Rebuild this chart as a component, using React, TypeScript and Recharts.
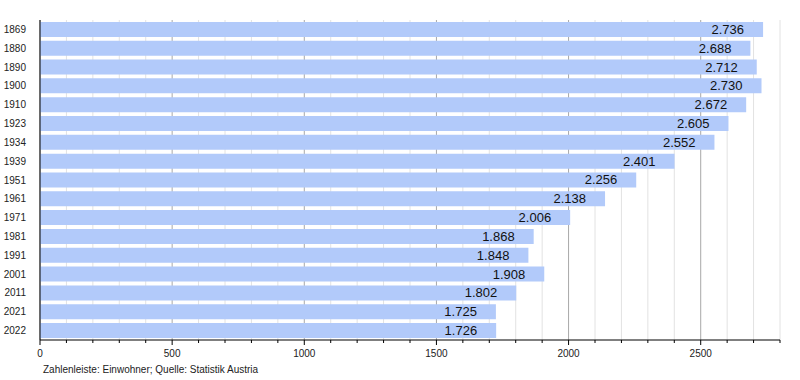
import React from "react";
import { BarChart, Bar, XAxis, YAxis, CartesianGrid, LabelList } from "recharts";

// census years and inhabitants
const years = ["1869", "1880", "1890", "1900", "1910", "1923", "1934", "1939", "1951", "1961", "1971", "1981", "1991", "2001", "2011", "2021", "2022"];
const population = [2736, 2688, 2712, 2730, 2672, 2605, 2552, 2401, 2256, 2138, 2006, 1868, 1848, 1908, 1802, 1725, 1726];

// every 100 gets a minor tick / grid line, every 500 a label
const xTicks = [0, 100, 200, 300, 400, 500, 600, 700, 800, 900, 1000, 1100, 1200, 1300, 1400, 1500, 1600, 1700, 1800, 1900, 2000, 2100, 2200, 2300, 2400, 2500, 2600, 2700, 2800];
const majorStep = 500;

const FONT = "'Liberation Sans', Arial, Helvetica, sans-serif";
const BAR_COLOR = "#b2cafa";

const data = years.map((year, i) => ({ year, value: population[i] }));

// 2736 -> "2.736"
function formatDe(v: number) {
  return String(v).replace(/\B(?=(\d{3})+(?!\d))/g, ".");
}

const XTick = (props: any) => {
  const { x, y, payload } = props;
  const major = payload.value % majorStep === 0;
  return (
    <g>
      <line x1={x} x2={x} y1={y} y2={y + (major ? 5 : 3)} stroke="#000" strokeWidth={1} />
      {major && (
        <text x={x} y={y + 17} textAnchor="middle" fontSize={10} fill="#222" fontFamily={FONT}>
          {payload.value}
        </text>
      )}
    </g>
  );
};

const GridLine = (p: any) => (
  <line
    key={`g-${p.index}`}
    x1={p.x1}
    y1={p.y1}
    x2={p.x2}
    y2={p.y2}
    stroke={p.index % 5 === 0 ? "#a8a8a8" : "#e2e2e2"}
    strokeWidth={1}
  />
);

const ValueLabel = (props: any) => {
  const { x, y, width, height, value } = props;
  return (
    <text
      x={x + width - 19}
      y={y + height / 2}
      textAnchor="end"
      dominantBaseline="central"
      fontSize={13}
      fill="#111"
      fontFamily={FONT}
    >
      {formatDe(value)}
    </text>
  );
};

export default function App() {
  return (
    <div style={{ position: "absolute", left: 0, top: 0, width: 800, height: 380, background: "#fff", fontFamily: FONT }}>
      <BarChart
        width={800}
        height={380}
        layout="vertical"
        data={data}
        margin={{ top: 20, right: 20, left: 0, bottom: 0 }}
        barCategoryGap="10%"
      >
        <CartesianGrid horizontal={false} vertical={GridLine} />
        <XAxis
          type="number"
          domain={[0, 2800]}
          ticks={xTicks}
          interval={0}
          height={40}
          tickSize={0}
          tickMargin={0}
          tickLine={false}
          axisLine={{ stroke: "#000", strokeWidth: 1 }}
          tick={<XTick />}
        />
        <YAxis
          type="category"
          dataKey="year"
          width={40}
          tickLine={false}
          tickMargin={8}
          axisLine={{ stroke: "#000", strokeWidth: 1 }}
          tick={{ fontSize: 10, fill: "#222", fontFamily: FONT }}
          interval={0}
        />
        <Bar dataKey="value" fill={BAR_COLOR} isAnimationActive={false}>
          <LabelList dataKey="value" content={<ValueLabel />} />
        </Bar>
      </BarChart>
      <div style={{ position: "absolute", left: 43, top: 363, fontSize: 10, color: "#222", lineHeight: "13px" }}>
        Zahlenleiste: Einwohner; Quelle: Statistik Austria
      </div>
    </div>
  );
}
